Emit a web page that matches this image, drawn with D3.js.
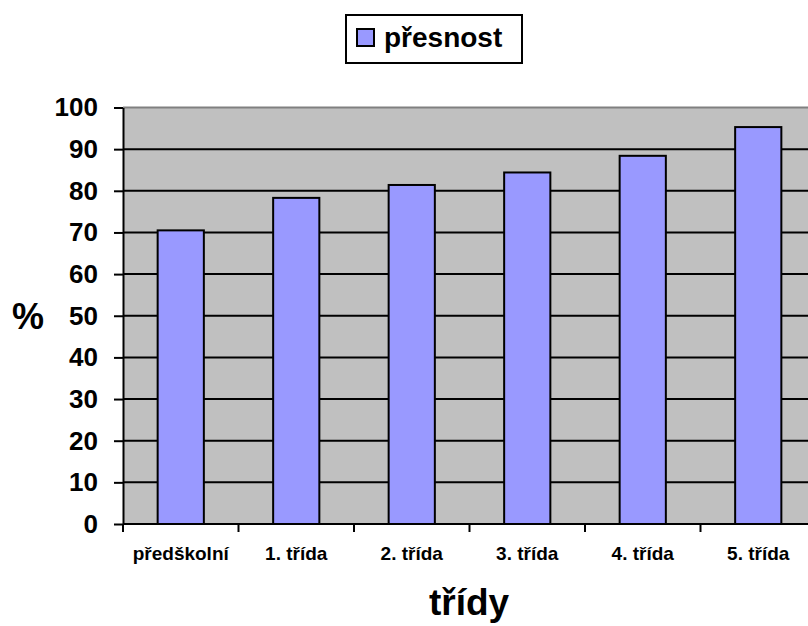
<!DOCTYPE html>
<html>
<head>
<meta charset="utf-8">
<script src="https://cdn.jsdelivr.net/npm/d3@7"></script>
<style>
  body { margin: 0; background: #fff; }
  svg { display: block; font-family: Arial, "Liberation Sans", sans-serif; }
</style>
</head>
<body>
<div id="chart"></div>
<script>
// Data
const categories = ['předškolní', '1. třída', '2. třída', '3. třída', '4. třída', '5. třída'];
const presnost = [70.5, 78.3, 81.4, 84.4, 88.4, 95.3];
const yTicks = [0, 10, 20, 30, 40, 50, 60, 70, 80, 90, 100];

const W = 808, H = 626;
const plot = { left: 123, top: 107.5, right: 816, bottom: 524 };

const svg = d3.select('#chart').append('svg')
  .attr('width', W)
  .attr('height', H);

const x = d3.scaleBand()
  .domain(categories)
  .range([plot.left, plot.right])
  .paddingInner(0.6)
  .paddingOuter(0.3);

const y = d3.scaleLinear()
  .domain([0, 100])
  .range([plot.bottom, plot.top]);

// Plot background
svg.append('rect')
  .attr('x', plot.left)
  .attr('y', plot.top)
  .attr('width', plot.right - plot.left)
  .attr('height', plot.bottom - plot.top)
  .attr('fill', '#c0c0c0');

svg.append('line')
  .attr('x1', plot.left).attr('x2', plot.right)
  .attr('y1', plot.top).attr('y2', plot.top)
  .attr('stroke', '#808080')
  .attr('stroke-width', 2);

// Gridlines
svg.append('g')
  .selectAll('line')
  .data(yTicks.filter(d => d > 0 && d < 100))
  .join('line')
  .attr('x1', plot.left).attr('x2', plot.right)
  .attr('y1', d => y(d)).attr('y2', d => y(d))
  .attr('stroke', '#000')
  .attr('stroke-width', 2);

// Bars
svg.append('g')
  .selectAll('rect')
  .data(presnost)
  .join('rect')
  .attr('x', (d, i) => x(categories[i]))
  .attr('y', d => y(d))
  .attr('width', x.bandwidth())
  .attr('height', d => y(0) - y(d))
  .attr('fill', '#9999ff')
  .attr('stroke', '#000')
  .attr('stroke-width', 2);

// Y axis
const yAxis = svg.append('g')
  .attr('transform', `translate(${plot.left},0)`)
  .call(d3.axisLeft(y).tickValues(yTicks).tickSize(9).tickPadding(16).tickSizeOuter(0));
yAxis.selectAll('.domain').attr('stroke-width', 2);
yAxis.selectAll('.tick line').attr('stroke-width', 2);
yAxis.selectAll('.tick text')
  .attr('font-size', 26)
  .attr('font-weight', 'bold')
  .attr('font-family', 'Arial, "Liberation Sans", sans-serif')
  .attr('fill', '#000');

// X axis with ticks at band boundaries
const step = x.step();
const boundaries = d3.range(categories.length + 1).map(i => plot.left + i * step);
svg.append('line')
  .attr('x1', plot.left).attr('x2', plot.right)
  .attr('y1', plot.bottom).attr('y2', plot.bottom)
  .attr('stroke', '#000')
  .attr('stroke-width', 2);
svg.append('g')
  .selectAll('line')
  .data(boundaries)
  .join('line')
  .attr('x1', d => d).attr('x2', d => d)
  .attr('y1', plot.bottom).attr('y2', plot.bottom + 8)
  .attr('stroke', '#000')
  .attr('stroke-width', 2);

svg.append('g')
  .selectAll('text')
  .data(categories)
  .join('text')
  .attr('x', d => x(d) + x.bandwidth() / 2)
  .attr('y', 560)
  .attr('text-anchor', 'middle')
  .attr('font-size', 19)
  .attr('font-weight', 'bold')
  .text(d => d);

// Axis titles
svg.append('text')
  .attr('x', 28)
  .attr('y', 329)
  .attr('text-anchor', 'middle')
  .attr('font-size', 36)
  .attr('font-weight', 'bold')
  .text('%');

svg.append('text')
  .attr('x', 469)
  .attr('y', 615)
  .attr('text-anchor', 'middle')
  .attr('font-size', 37)
  .attr('font-weight', 'bold')
  .text('třídy');

// Legend
const legend = svg.append('g');
legend.append('rect')
  .attr('x', 346).attr('y', 15)
  .attr('width', 176).attr('height', 48)
  .attr('fill', '#fff')
  .attr('stroke', '#000')
  .attr('stroke-width', 2);
legend.append('rect')
  .attr('x', 357).attr('y', 29)
  .attr('width', 17).attr('height', 17)
  .attr('fill', '#9999ff')
  .attr('stroke', '#000')
  .attr('stroke-width', 2);
legend.append('text')
  .attr('x', 384)
  .attr('y', 47)
  .attr('font-size', 28)
  .attr('font-weight', 'bold')
  .text('přesnost');
</script>
</body>
</html>
